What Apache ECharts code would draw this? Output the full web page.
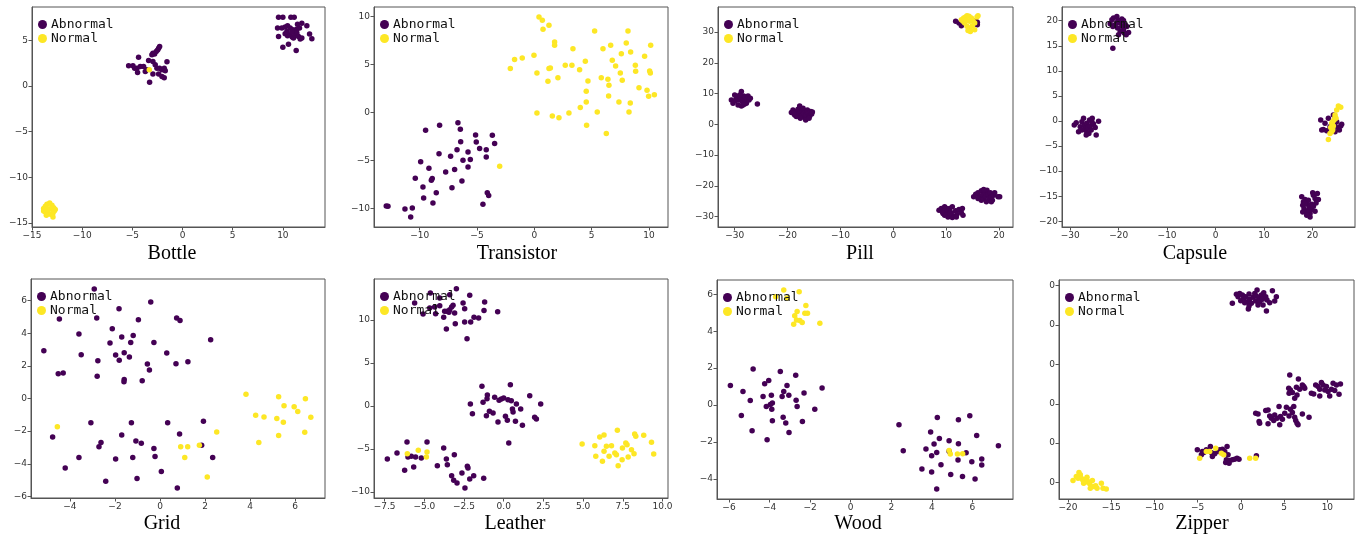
<!DOCTYPE html>
<html>
<head>
<meta charset="utf-8">
<title>t-SNE</title>
<script src="https://cdn.jsdelivr.net/npm/echarts@6/dist/echarts.min.js"></script>
<style>
	html, body { margin: 0; padding: 0; background: #fff; }
	#main { width: 1356px; height: 535px; }
</style>
</head>
<body>
<div id="main"></div>
<script>
// 类别名称
var panelNames = ['Bottle', 'Transistor', 'Pill', 'Capsule', 'Grid', 'Leather', 'Wood', 'Zipper'];
var seriesNames = ['Abnormal', 'Normal'];

// Bottle
var bottleAbnormal = [[-4.38,3.17],[-5.37,2.22],[-4.94,2.22],[-4.54,1.96],[-4.21,2.14],[-3.88,2.14],[-4.48,1.48],[-3.71,1.59],[-3.38,2.80],[-2.95,3.61],[-2.78,3.53],[-2.62,3.79],[-2.48,3.97],[-2.38,4.16],[-2.28,4.34],[-2.95,2.69],[-2.72,2.33],[-2.55,1.96],[-2.28,1.96],[-2.05,1.78],[-1.82,1.96],[-1.72,1.67],[-2.38,1.34],[-2.05,1.04],[-1.82,0.93],[-2.95,1.34],[-3.28,0.42],[-1.55,2.66],[-3.55,1.78],[-4.77,1.96],[-3.05,3.43],
	[9.57,7.56],[10.0,7.56],[10.80,7.56],[11.13,7.56],[9.47,6.36],[9.90,6.36],[10.23,6.47],[10.47,6.61],[10.73,6.36],[11.0,6.17],[11.23,6.10],[11.40,6.25],[11.66,6.36],[11.89,6.90],[12.39,6.61],[9.57,5.44],[10.23,5.73],[10.47,5.51],[10.73,5.62],[10.93,5.37],[11.06,5.26],[11.23,5.62],[11.40,5.81],[11.56,5.44],[11.73,5.15],[11.89,5.26],[12.66,5.70],[12.89,5.18],[10.0,4.27],[10.56,4.60],[11.33,3.90],[10.90,5.99],[11.46,6.79],[10.40,5.99]];
var bottleNormal = [[-3.31,1.78],[-13.84,-13.42],[-13.67,-13.17],[-13.51,-12.95],[-13.24,-12.80],[-13.01,-13.06],[-12.84,-13.32],[-12.68,-13.53],[-12.91,-13.90],[-13.17,-14.05],[-13.44,-13.97],[-13.67,-13.79],[-13.84,-13.68],[-13.34,-13.53],[-13.11,-13.42],[-13.51,-13.42],[-12.91,-14.34],[-13.57,-14.16],[-12.78,-13.68]];

// Transistor
var transistorAbnormal = [[-6.66,-1.08],[-9.48,-1.88],[-8.26,-1.35],[-6.45,-1.77],[-5.12,-2.36],[-3.66,-2.40],[-3.46,-3.26],[-6.42,-3.06],[-5.06,-3.09],[-4.77,-3.78],[-4.19,-3.89],[-6.74,-3.89],[-8.31,-4.31],[-7.30,-4.58],[-5.78,-4.13],[-5.58,-4.93],[-9.91,-5.14],[-6.22,-5.0],[-5.78,-5.69],[-4.19,-4.65],[-9.19,-5.83],[-7.73,-6.22],[-6.95,-5.97],[-10.38,-6.88],[-8.90,-6.91],[-8.98,-7.08],[-6.31,-7.15],[-9.71,-7.78],[-7.18,-7.85],[-8.55,-8.37],[-4.10,-8.37],[-3.98,-8.68],[-9.65,-8.92],[-8.84,-9.44],[-4.48,-9.58],[-12.91,-9.76],[-12.76,-9.79],[-11.28,-10.07],[-10.64,-9.97],[-10.78,-10.90]];
var transistorNormal = [[0.41,9.93],[0.70,9.58],[0.76,8.65],[1.28,9.06],[1.77,7.33],[1.77,6.98],[3.37,6.63],[-0.03,5.94],[-1.72,5.49],[-1.05,5.66],[-2.09,4.55],[0.23,4.10],[1.28,4.55],[1.40,4.62],[1.19,3.23],[2.06,3.61],[2.70,4.90],[3.28,4.90],[3.95,4.44],[4.45,5.31],[4.68,3.26],[4.53,2.19],[4.53,1.08],[4.01,0.49],[0.23,-0.07],[1.57,-0.38],[2.15,-0.56],[3.02,-0.07],[4.56,-1.35],[5.26,8.47],[5.99,6.63],[6.66,6.98],[6.80,5.42],[7.09,4.83],[7.50,4.10],[7.59,6.11],[8.02,7.22],[8.17,8.47],[8.40,6.28],[8.37,0.97],[5.84,3.61],[6.42,3.44],[6.51,2.81],[7.67,3.33],[6.48,1.70],[7.38,1.08],[8.26,0.03],[5.49,0.03],[6.28,-2.22],[8.81,4.90],[8.84,4.27],[9.62,5.83],[10.15,6.98],[9.13,2.57],[9.83,2.29],[9.97,1.67],[10.47,1.84],[10.06,4.31],[10.12,4.10],[-3.02,-5.63]];

// Pill
var pillAbnormal = [[-30.63,7.93],[-30.32,6.85],[-30.0,9.57],[-29.68,8.48],[-29.37,9.02],[-29.18,7.93],[-28.93,8.80],[-28.74,10.65],[-28.55,7.39],[-28.42,8.48],[-28.30,9.24],[-28.11,7.93],[-27.92,8.80],[-27.79,6.85],[-27.60,8.15],[-27.48,9.24],[-27.29,7.93],[-27.04,8.48],[-29.37,6.30],[-28.74,5.98],[-28.11,6.63],[-29.81,7.72],[-29.05,9.57],[-28.42,6.30],[-25.71,6.63],
	[-19.28,3.80],[-18.97,4.67],[-18.65,3.04],[-18.34,4.13],[-18.02,4.89],[-17.83,3.37],[-17.71,5.98],[-17.58,4.13],[-17.39,2.72],[-17.20,4.67],[-16.95,3.59],[-16.76,2.28],[-16.57,4.13],[-16.44,3.04],[-16.25,4.67],[-16.07,3.59],[-15.81,2.72],[-15.62,4.13],[-15.44,3.37],[-15.31,4.02],[-17.07,5.22],[-16.57,1.41],[-18.34,2.50],[-17.58,1.96],[-15.94,1.96],[-18.84,3.59],
	[11.80,33.48],[12.43,32.93],[12.88,32.07],[15.90,33.15],[15.90,32.39],[15.59,33.70],
	[8.65,-27.93],[9.09,-27.39],[9.41,-29.02],[9.72,-26.85],[10.04,-28.15],[10.35,-29.57],[10.67,-27.39],[10.98,-28.80],[11.17,-26.85],[11.42,-29.89],[11.80,-28.15],[12.05,-29.24],[12.43,-27.72],[12.88,-28.80],[13.07,-27.39],[9.72,-29.57],[10.35,-30.11],[11.17,-30.33],[11.93,-30.11],[9.28,-28.48],[13.19,-29.57],[10.79,-29.02],[10.04,-27.39],
	[15.21,-23.59],[15.59,-22.72],[16.03,-22.28],[16.34,-23.59],[16.66,-21.63],[16.85,-23.04],[17.10,-24.13],[17.29,-21.96],[17.48,-23.37],[17.73,-21.41],[17.92,-22.72],[18.11,-24.13],[18.36,-22.28],[18.55,-23.59],[18.74,-24.67],[18.99,-23.04],[19.18,-22.28],[19.81,-23.59],[20.13,-23.59],[16.66,-24.67],[17.61,-25.22],[18.55,-25.22],[16.03,-24.13],[17.10,-21.20]];
var pillNormal = [[12.88,34.02],[13.32,34.57],[13.69,34.89],[13.95,35.33],[14.33,35.11],[14.77,34.57],[15.08,33.80],[15.40,32.93],[14.96,32.07],[14.45,31.30],[14.14,30.54],[14.58,30.22],[13.95,31.85],[13.51,32.93],[13.19,33.48],[15.84,34.89],[16.03,35.33],[15.40,30.76],[14.45,33.48],[13.82,33.80]];

// Capsule
var capsuleAbnormal = [[-21.40,20.20],[-21.06,20.53],[-20.37,20.87],[-20.03,20.07],[-19.68,19.53],[-19.34,20.33],[-19.00,20.07],[-18.65,19.20],[-18.31,18.87],[-17.96,17.67],[-19.0,18.20],[-19.68,17.87],[-20.23,18.53],[-20.72,19.20],[-21.20,18.87],[-21.75,19.40],[-20.03,17.20],[-18.45,17.20],[-19.34,18.87],[-18.86,17.53],[-20.37,19.67],[-21.20,14.53],
	[-29.17,-0.80],[-28.76,-0.33],[-28.28,-2.13],[-27.94,-1.13],[-27.59,-0.13],[-27.25,0.53],[-27.11,-0.80],[-26.91,-1.47],[-26.70,-1.93],[-26.56,-0.47],[-26.35,-1.27],[-26.15,-2.47],[-26.01,0.20],[-25.87,-1.0],[-25.67,-1.80],[-25.46,0.53],[-25.19,-0.60],[-24.84,-1.27],[-24.64,-2.80],[-24.15,-0.07],[-26.70,-2.80],[-27.59,-1.80],[-25.53,-0.13],
	[17.80,-15.13],[18.14,-16.13],[18.49,-15.67],[18.01,-16.80],[18.28,-17.47],[18.69,-18.13],[18.97,-16.60],[19.17,-15.80],[19.38,-17.13],[19.52,-18.47],[19.86,-17.67],[20.07,-14.33],[20.21,-14.80],[20.55,-15.47],[20.76,-16.33],[21.24,-15.67],[21.03,-14.47],[20.55,-18.0],[19.52,-19.13],[18.83,-18.80],[19.17,-17.80],[19.86,-16.60],[18.49,-16.47],[20.21,-17.0],[18.01,-18.13],
	[21.72,0.20],[22.27,-1.67],[22.61,-0.47],[22.96,-1.93],[23.30,0.53],[23.64,-1.13],[23.99,-1.47],[24.33,1.20],[24.68,-1.0],[25.02,-0.13],[25.37,-1.33],[25.57,-1.80],[25.85,-1.0],[26.05,-0.67],[21.93,-1.80],[24.68,-2.13]];
var capsuleNormal = [[25.37,3.0],[25.85,2.73],[25.02,2.20],[24.68,1.20],[24.88,0.53],[24.47,0.20],[24.19,-0.13],[23.99,-0.47],[24.33,-1.0],[24.68,0.73],[23.99,-2.13],[23.64,-2.47],[24.19,-1.80],[23.30,-3.67],[23.78,-1.27]];

// Grid
var gridAbnormal = [[-2.92,6.72],[-0.41,5.92],[-1.82,5.51],[-4.47,4.88],[-2.81,4.94],[-0.96,4.83],[0.74,4.94],[0.89,4.79],[-2.12,4.28],[-3.60,3.95],[-1.70,3.77],[-1.19,3.87],[-2.22,3.40],[-1.30,3.44],[-0.27,3.44],[2.25,3.61],[-5.16,2.93],[-3.50,2.69],[-1.97,2.67],[-1.59,2.81],[-1.36,2.55],[0.30,2.79],[-1.81,2.34],[-2.76,2.32],[-0.56,2.12],[-0.47,1.75],[0.71,2.14],[1.24,2.26],[-4.52,1.52],[-4.30,1.56],[-2.79,1.36],[-1.59,1.16],[-1.60,1.03],[-0.79,1.09],
	[-3.07,-1.48],[-1.27,-1.48],[0.34,-1.48],[1.93,-1.40],[-4.77,-2.36],[-1.70,-2.24],[0.87,-2.18],[-2.62,-2.69],[-1.07,-2.61],[-0.83,-2.75],[-2.71,-2.95],[-0.27,-3.06],[1.85,-2.87],[-3.60,-3.61],[-1.97,-3.71],[-1.21,-3.61],[-0.22,-3.55],[2.34,-3.61],[-4.21,-4.26],[0.06,-4.47],[-2.41,-5.08],[-1.02,-4.90],[0.77,-5.49]];
var gridNormal = [[-4.56,-1.73],[0.92,-2.95],[1.23,-2.95],[1.10,-3.61],[1.75,-2.87],[2.52,-2.05],[2.10,-4.81],[3.82,0.26],[4.25,-1.03],[4.62,-1.13],[4.39,-2.69],[5.27,0.11],[5.51,-0.44],[5.19,-1.22],[5.48,-1.46],[5.27,-2.26],[5.96,-0.50],[6.12,-0.79],[6.46,-0.01],[6.70,-1.15],[6.43,-2.07]];

// Leather
var leatherAbnormal = [[-4.62,13.14],[-2.98,13.64],[-5.61,11.98],[-4.03,11.67],[-3.40,12.95],[-3.19,11.71],[-2.56,11.98],[-2.14,12.87],[-1.20,12.09],[-4.66,11.40],[-4.35,11.51],[-3.72,11.01],[-3.40,11.20],[-3.57,11.01],[-3.28,11.51],[-3.09,10.81],[-2.46,11.32],[-1.24,11.12],[-0.38,10.97],[-5.08,10.70],[-4.29,10.74],[-3.78,10.31],[-2.46,9.77],[-2.08,9.77],[-1.87,10.31],[-1.58,10.23],[-3.05,9.57],[-3.61,8.95],[-2.31,7.83],[-4.03,12.56],[-3.45,10.89],
	[-1.37,2.29],[0.42,2.48],[1.64,1.20],[2.33,0.23],[-1.03,1.28],[-1.05,0.85],[-0.57,1.01],[-0.29,0.66],[-0.15,0.81],[0.0,0.93],[0.27,0.74],[0.48,0.62],[0.80,0.23],[0.55,-0.35],[1.07,-0.35],[-2.10,0.23],[-1.30,0.43],[-1.97,-0.89],[-0.90,-0.62],[-0.67,-0.81],[-1.09,-1.12],[0.11,-1.20],[0.23,-1.67],[0.59,-0.70],[0.74,-1.78],[1.18,-2.25],[-0.36,-1.86],[0.32,-4.30],[1.95,-1.32],[2.06,-1.51],
	[-7.33,-6.16],[-6.72,-5.47],[-6.24,-7.48],[-6.09,-4.19],[-6.03,-5.93],[-5.82,-5.85],[-5.67,-7.09],[-5.55,-5.93],[-5.19,-6.05],[-4.83,-4.19],[-4.18,-6.94],[-3.78,-4.88],[-3.61,-6.16],[-3.55,-6.82],[-3.11,-5.66],[-3.28,-8.10],[-3.15,-8.64],[-2.94,-8.95],[-2.63,-7.79],[-2.29,-7.02],[-2.25,-7.21],[-2.14,-8.49],[-1.89,-8.10],[-1.26,-8.41],[-2.44,-9.53]];
var leatherNormal = [[-6.07,-5.54],[-5.38,-5.16],[-4.83,-5.35],[-4.87,-5.93],
	[4.94,-4.42],[5.74,-4.61],[6.05,-3.60],[6.32,-3.37],[5.80,-5.85],[6.22,-6.43],[6.32,-5.27],[6.47,-4.69],[6.64,-5.85],[6.79,-4.61],[7.0,-5.47],[7.10,-5.66],[7.16,-2.83],[7.21,-6.94],[7.46,-6.24],[7.48,-4.88],[7.69,-4.30],[7.77,-4.50],[7.84,-5.93],[8.05,-5.08],[8.21,-5.54],[8.25,-3.26],[8.32,-3.53],[8.82,-3.41],[9.31,-4.22],[9.45,-5.58]];

// Wood
var woodAbnormal = [[-5.93,1.06],[-5.31,0.74],[-4.81,1.96],[-5.39,-0.56],[-4.95,0.25],[-4.86,-1.39],[-4.32,0.47],[-4.24,1.15],[-4.16,-0.07],[-4.12,-1.87],[-4.04,1.33],[-3.91,0.54],[-3.86,0.11],[-3.89,-0.22],[-3.86,-0.85],[-3.47,1.82],[-3.38,0.47],[-3.30,0.74],[-3.33,-0.65],[-3.20,-0.97],[-3.14,1.06],[-3.05,0.54],[-3.04,-1.48],[-2.71,1.62],[-2.69,0.27],[-2.64,-0.07],[-2.30,0.65],[-2.38,-0.88],[-1.77,-0.22],[-1.41,0.92],[-3.96,0.04],
	[2.38,-1.06],[2.59,-2.47],[3.51,-3.46],[3.71,-2.38],[3.94,-1.46],[3.99,-3.62],[3.99,-2.74],[4.11,-2.11],[4.24,-2.56],[4.27,-0.67],[4.37,-1.80],[4.45,-3.23],[4.85,-1.93],[4.85,-2.50],[4.93,-3.75],[5.31,-0.79],[5.31,-2.09],[5.29,-2.97],[5.51,-3.86],[5.69,-2.58],[5.87,-0.58],[5.97,-3.06],[6.21,-1.64],[6.46,-2.92],[6.46,-3.24],[6.13,-4.0],[7.28,-2.20],[4.24,-4.54]];
var woodNormal = [[-3.30,6.23],[-2.54,6.13],[-3.70,5.87],[-3.14,5.80],[-2.21,5.39],[-2.64,5.06],[-2.76,4.83],[-2.26,4.97],[-2.13,4.97],[-2.67,4.61],[-2.51,4.58],[-2.39,4.47],[-2.81,4.38],[-1.52,4.43],
	[4.85,-2.45],[4.91,-2.65],[5.26,-2.65],[5.52,-2.63]];

// Zipper
var zipperAbnormal = [[-0.99,15.52],[-0.52,17.80],[-0.33,17.21],[-0.02,16.19],[0.17,17.63],[0.32,16.79],[0.56,17.21],[0.75,15.94],[0.94,17.88],[1.02,16.53],[1.21,15.52],[1.40,17.04],[1.60,18.05],[1.71,16.11],[1.87,18.90],[1.98,15.09],[2.10,16.79],[2.17,15.94],[2.37,17.63],[2.48,16.53],[2.64,18.22],[2.87,17.21],[3.02,16.36],[3.33,15.69],[3.64,18.73],[3.91,16.11],[4.10,17.21],[0.94,14.84],[0.86,14.08],[2.95,13.57],[0.44,15.69],[1.79,17.38],[2.56,15.09],[-0.14,18.05],
	[5.65,-2.67],[6.65,-3.69],[5.53,-6.06],[5.72,-6.48],[5.95,-7.16],[6.22,-8.60],[6.42,-5.80],[6.80,-6.31],[7.11,-5.21],[7.27,-5.63],[7.38,-6.06],[8.15,-7.33],[8.42,-7.50],[8.65,-5.21],[8.92,-5.63],[9.12,-6.31],[9.31,-4.62],[9.50,-5.21],[9.70,-6.48],[9.89,-5.63],[10.08,-6.90],[10.27,-8.0],[10.47,-6.31],[10.66,-4.79],[10.85,-6.65],[11.05,-5.21],[11.35,-7.58],[11.51,-4.96],[9.12,-8.0],[5.57,-7.33],[6.49,-7.75],
	[1.71,-12.40],[1.98,-12.57],[2.10,-14.52],[2.87,-11.73],[3.14,-11.56],[3.33,-13.08],[3.52,-13.67],[3.80,-14.26],[3.91,-12.83],[4.18,-13.67],[4.41,-10.71],[4.57,-13.25],[4.80,-13.93],[5.07,-12.40],[5.26,-10.88],[5.57,-13.08],[5.72,-11.39],[5.95,-12.23],[6.11,-10.71],[6.22,-13.42],[6.34,-14.26],[6.49,-14.94],[6.61,-15.36],[7.11,-12.57],[7.88,-13.42],[2.17,-14.94],[3.14,-15.11],[4.49,-15.36],
	[-5.04,-21.71],[-4.46,-22.13],[-4.57,-22.98],[-4.30,-22.39],[-4.0,-21.71],[-3.53,-20.86],[-3.42,-22.39],[-3.30,-23.40],[-3.03,-22.72],[-2.65,-22.13],[-2.45,-21.71],[-2.14,-21.54],[-1.87,-22.13],[-1.60,-20.86],[-1.49,-22.98],[-1.68,-24.25],[-1.76,-24.92],[-1.30,-24.42],[-0.99,-24.25],[-0.72,-24.08],[-0.45,-23.82],[-0.22,-24.08],[1.79,-23.23],[-1.37,-25.09]];
var zipperNormal = [[-4.77,-23.82],[-4.0,-22.13],[-3.61,-22.13],[-2.92,-21.29],[-2.26,-22.56],[-1.99,-22.98],[1.02,-23.82],[1.71,-23.82],
	[-19.42,-29.49],[-19.04,-28.48],[-18.73,-27.46],[-18.57,-28.05],[-18.46,-28.90],[-18.26,-29.49],[-18.07,-30.0],[-17.96,-29.15],[-17.80,-28.65],[-17.69,-29.75],[-17.49,-30.34],[-17.42,-31.44],[-17.18,-29.49],[-17.03,-31.02],[-16.80,-30.85],[-16.64,-31.44],[-16.14,-30.17],[-15.95,-31.44],[-15.57,-31.69],[-18.19,-30.17],[-18.84,-28.90]];

// 刻度
var bottleXTicks = [-15, -10, -5, 0, 5, 10];
var bottleYTicks = [-15, -10, -5, 0, 5];
var transistorXTicks = [-10, -5, 0, 5, 10];
var transistorYTicks = [-10, -5, 0, 5, 10];
var pillXTicks = [-30, -20, -10, 0, 10, 20];
var pillYTicks = [-30, -20, -10, 0, 10, 20, 30];
var capsuleXTicks = [-30, -20, -10, 0, 10, 20];
var capsuleYTicks = [-20, -15, -10, -5, 0, 5, 10, 15, 20];
var gridXTicks = [-4, -2, 0, 2, 4, 6];
var gridYTicks = [-6, -4, -2, 0, 2, 4, 6];
var leatherXTicks = [-7.5, -5, -2.5, 0, 2.5, 5, 7.5, 10];
var leatherYTicks = [-10, -5, 0, 5, 10];
var woodXTicks = [-6, -4, -2, 0, 2, 4, 6];
var woodYTicks = [-4, -2, 0, 2, 4, 6];
var zipperXTicks = [-20, -15, -10, -5, 0, 5, 10];
var zipperYTicks = [-30, -20, -10, 0, 10, 20];

var panelData = [
	[bottleAbnormal, bottleNormal, bottleXTicks, bottleYTicks],
	[transistorAbnormal, transistorNormal, transistorXTicks, transistorYTicks],
	[pillAbnormal, pillNormal, pillXTicks, pillYTicks],
	[capsuleAbnormal, capsuleNormal, capsuleXTicks, capsuleYTicks],
	[gridAbnormal, gridNormal, gridXTicks, gridYTicks],
	[leatherAbnormal, leatherNormal, leatherXTicks, leatherYTicks],
	[woodAbnormal, woodNormal, woodXTicks, woodYTicks],
	[zipperAbnormal, zipperNormal, zipperXTicks, zipperYTicks]
];

// 画面布局: 框 [left, top, width, height], 轴范围, 标题中心
var layout = [
	{ box: [32, 7, 293, 220], xr: [-15, 14.2], yr: [-15.44, 8.67], t: [172, 254] },
	{ box: [374, 7, 294, 220], xr: [-13.98, 11.66], yr: [-11.95, 10.97], t: [517, 254] },
	{ box: [718, 7, 295, 220], xr: [-33.16, 22.65], yr: [-33.4, 38.15], t: [860, 254] },
	{ box: [1062, 7, 293, 220], xr: [-31.7, 28.8], yr: [-21.14, 22.74], t: [1195, 254] },
	{ box: [31, 279, 294, 219], xr: [-5.73, 7.33], yr: [-6.1, 7.33], t: [162, 524] },
	{ box: [374, 279, 294, 219], xr: [-8.17, 10.35], yr: [-10.7, 14.77], t: [515, 524], dec: 1 },
	{ box: [717, 280, 296, 219], xr: [-6.59, 8.0], yr: [-5.08, 6.77], t: [858, 524] },
	{ box: [1059, 280, 295, 219], xr: [-21.04, 13.08], yr: [-34.2, 21.45], t: [1202, 524], cutY: true }
];

var colors = ['#440154', '#fde725'];
var frameColor = '#555';

function fmt(v, dec) {
	var s = dec ? Math.abs(v).toFixed(dec) : String(Math.abs(v));
	return v < 0 ? '\u2212' + s : s;
}

var grids = [], xAxes = [], yAxes = [], series = [], legends = [], graphics = [];

panelData.forEach(function(p, i) {
	var L = layout[i];
	grids.push({
		left: L.box[0], top: L.box[1], width: L.box[2], height: L.box[3],
		show: true, borderColor: frameColor, borderWidth: 1, containLabel: false
	});

	var axisCommon = {
		type: 'value',
		gridIndex: i,
		splitLine: { show: false },
		axisLine: { show: true, onZero: false, lineStyle: { color: frameColor, width: 1 } },
		axisTick: { show: true, length: 3.5, lineStyle: { color: frameColor } }
	};

	xAxes.push(Object.assign({}, axisCommon, {
		min: L.xr[0], max: L.xr[1],
		axisTick: Object.assign({}, axisCommon.axisTick, { customValues: p[2] }),
		axisLabel: {
			customValues: p[2], fontSize: 9, color: '#333', margin: 4,
			fontFamily: 'DejaVu Sans',
			formatter: function(v) { return fmt(v, L.dec); }
		}
	}));

	yAxes.push(Object.assign({}, axisCommon, {
		min: L.yr[0], max: L.yr[1],
		axisTick: Object.assign({}, axisCommon.axisTick, { customValues: p[3] }),
		axisLabel: {
			customValues: p[3], fontSize: 9, color: '#333', margin: 4,
			fontFamily: 'DejaVu Sans',
			formatter: function(v) {
				// 原图此处标签被裁掉, 只剩最后一个字符
				var s = fmt(v);
				return L.cutY ? s.slice(-1) : s;
			}
		}
	}));

	for (var k = 0; k < 2; k++) {
		series.push({
			name: seriesNames[k],
			type: 'scatter',
			xAxisIndex: i,
			yAxisIndex: i,
			data: p[k],
			symbolSize: 5.5,
			itemStyle: { color: colors[k], opacity: 1 },
			silent: true,
			animation: false
		});
	}

	legends.push({
		data: seriesNames,
		orient: 'vertical',
		left: L.box[0] + 6,
		top: L.box[1] + 11,
		padding: 0,
		itemGap: 1,
		itemWidth: 9,
		itemHeight: 9,
		icon: 'circle',
		selectedMode: false,
		textStyle: { fontFamily: 'DejaVu Sans Mono', fontSize: 13, lineHeight: 13, color: '#111', padding: [0, 0, 0, -1] }
	});

	graphics.push({
		type: 'text',
		x: L.t[0],
		y: L.t[1],
		style: {
			text: panelNames[i],
			fontFamily: 'Liberation Serif',
			fontSize: 20,
			fill: '#000',
			align: 'center',
			verticalAlign: 'middle'
		}
	});
});

var myChart = echarts.init(document.getElementById('main'), null, { renderer: 'canvas' });
myChart.setOption({
	backgroundColor: '#fff',
	animation: false,
	grid: grids,
	xAxis: xAxes,
	yAxis: yAxes,
	legend: legends,
	series: series,
	graphic: graphics
});
</script>
</body>
</html>
